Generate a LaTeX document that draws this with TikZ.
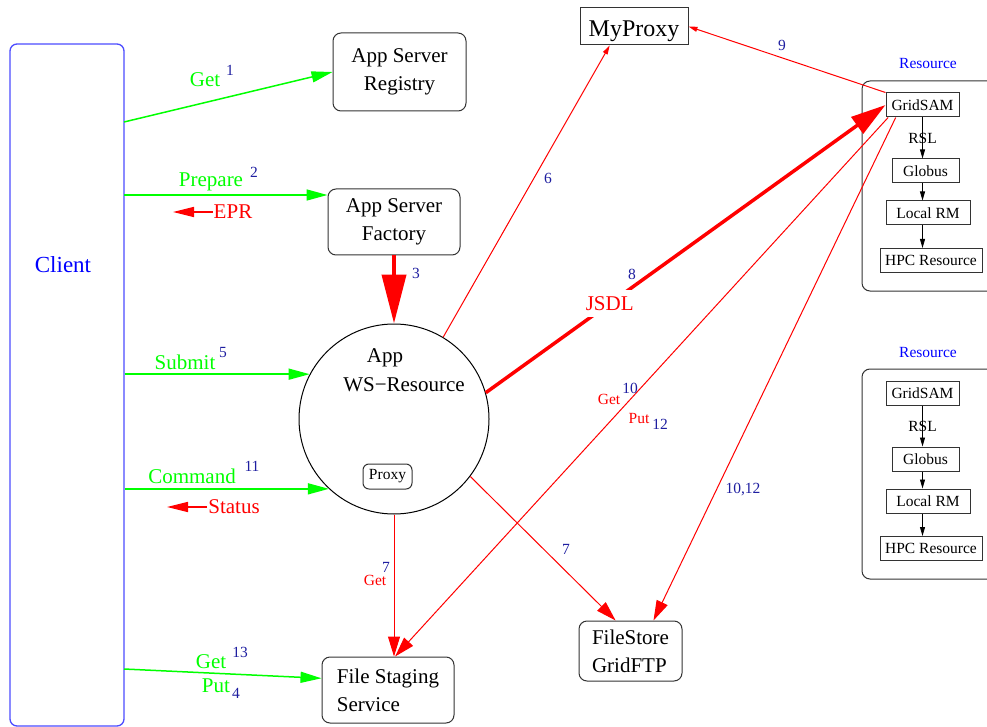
\documentclass[tikz,border=0pt]{standalone}
\usepackage{fontspec}
\setmainfont{Liberation Serif}
\usetikzlibrary{arrows.meta}
\definecolor{numblue}{RGB}{30,30,160}
\newcommand\bigtext{\fontsize{21}{28}\selectfont}
\newcommand\smalltext{\fontsize{15.5}{18}\selectfont}
\tikzset{
  box/.style={draw=black!80, line width=1pt, rounded corners=8pt, font=\bigtext, inner sep=0pt},
  resbox/.style={draw=black!80, line width=1pt, font=\smalltext, inner sep=0pt, minimum height=24pt},
  num/.style={text=numblue, font=\smalltext, inner sep=0pt},
  greenlabel/.style={text=green, font=\bigtext, inner sep=1pt},
  redlabel/.style={text=red, font=\bigtext, inner sep=1pt},
  call/.style={green, line width=1.5pt, -{Triangle[length=21pt,width=11pt]}},
  back/.style={red, line width=1.5pt, -{Triangle[length=21pt,width=10pt]}},
  flow/.style={red, line width=1pt, -{Triangle[length=20pt,width=12pt]}},
  thin/.style={red, line width=1pt, -{Triangle[length=9pt,width=5pt]}},
  jsdl/.style={red, line width=3.5pt, -{Triangle[length=35pt,width=20pt]}},
  push/.style={red, line width=4pt, -{Triangle[length=49pt,width=24pt]}},
  chain/.style={black, line width=0.8pt, -{Triangle[length=9pt,width=5pt]}}
}
\begin{document}
\begin{tikzpicture}[x=1pt,y=-1pt]
    \useasboundingbox (0,0) rectangle (987,727);

    % client
    \node[draw=blue!70, line width=1.3pt, rounded corners=7pt, minimum width=114pt, minimum height=682pt, inner sep=0pt] (client) at (67,385) {};
    \node[text=blue, font=\fontsize{23}{27}\selectfont] (clientname) at (63,265) {Client};

    % services
    \node[box, align=center, minimum width=133pt, minimum height=78pt] (registry) at (399.5,72) {App Server\\Registry};
    \node[box, align=center, minimum width=132pt, minimum height=66pt] (factory) at (394,222) {App Server\\Factory};
    \node[draw, circle, line width=1pt, minimum size=190pt, inner sep=0pt] (ws) at (394,419) {};
    \node[font=\bigtext, inner sep=0pt] (wsapp) at (385,358) {App};
    \node[font=\bigtext, inner sep=0pt] (wsres) at (404,385) {WS−Resource};
    \node[box, rounded corners=6pt, font=\smalltext, minimum width=49pt, minimum height=25pt] (proxy) at (387.5,476.5) {Proxy};
    \node[draw=black!80, line width=1pt, font=\fontsize{24}{28}\selectfont, text height=21pt, text depth=0pt, minimum width=108pt, minimum height=37pt, inner sep=0pt] (myproxy) at (634,26.5) {MyProxy};
    \node[box, align=left, minimum width=132pt, minimum height=66pt] (fss) at (388,690) {File Staging\\Service};
    \node[box, align=left, minimum width=103pt, minimum height=60pt] (filestore) at (630.5,651) {FileStore\\GridFTP};

    % resources
    \foreach \n/\dy in {1/0,2/288} {
        \node[text=blue, font=\smalltext, inner sep=0pt] (resname\n) at (928,64+\dy) {Resource};
        \node[box, minimum width=148pt, minimum height=210pt] (res\n) at (936,186+\dy) {};
        \node[resbox, minimum width=73pt] (gridsam\n) at (922.5,105+\dy) {GridSAM};
        \node[resbox, minimum width=67pt] (globus\n) at (925.5,171+\dy) {Globus};
        \node[resbox, minimum width=84pt] (localrm\n) at (928,213+\dy) {Local RM};
        \node[resbox, minimum width=102pt] (hpc\n) at (931,260.5+\dy) {HPC Resource};
        \draw[chain] (gridsam\n.south) -- node[font=\smalltext, inner sep=0pt] (rsl\n) {RSL} (gridsam\n.south |- globus\n.north);
        \draw[chain] (gridsam\n.south |- globus\n.south) -- (gridsam\n.south |- localrm\n.north);
        \draw[chain] (gridsam\n.south |- localrm\n.south) -- (gridsam\n.south |- hpc\n.north);
    }

    % client calls
    \coordinate (cget) at (124,122);
    \coordinate (cprep) at (124,195);
    \coordinate (cfile) at (124,669);
    \coordinate (eprtip) at (173,212);
    \coordinate (statustip) at (167,507);

    \draw[call] (cget) -- (registry.west);
    \node[greenlabel] (get1) at (205,80) {Get};
    \node[num] (n1) at (230,70) {1};

    \draw[call] (cprep) -- (cprep -| factory.west);
    \node[greenlabel] (prepare) at (211,182) {Prepare};
    \node[num] (n2) at (254,172) {2};
    \node[redlabel] (epr) at (233,212) {EPR};
    \draw[back] (epr.west) -- (eprtip);

    \draw[push] (factory.south) -- (ws.north);
    \node[num] (n3) at (416,273) {3};

    \draw[call] (client.east |- ws.152) -- (ws.152);
    \node[greenlabel] (submit) at (185,362) {Submit};
    \node[num] (n5) at (223,352) {5};

    \draw[call] (client.east |- ws.227) -- (ws.227);
    \node[greenlabel] (command) at (192,476) {Command};
    \node[num] (n11) at (252,466) {11};
    \node[redlabel] (status) at (234,507) {Status};
    \draw[back] (status.west) -- (statustip);

    \draw[call] (cfile) -- (fss.170);
    \node[greenlabel] (get13) at (211,662) {Get};
    \node[num] (n13) at (240,652) {13};
    \node[greenlabel] (put4) at (216,686) {Put};
    \node[num] (n4) at (236,693) {4};

    % job flow
    \draw[thin] (ws.59) -- (myproxy.218);
    \node[num] (n6) at (548,178) {6};

    \draw[thin] (gridsam1.north west) -- (myproxy.east);
    \node[num] (n9) at (782,45) {9};

    \draw[jsdl] (ws.16) -- node[pos=0.31, redlabel, fill=white, inner sep=6pt] (jsdlname) {JSDL} (gridsam1.west);
    \node[num, fill=white, inner sep=2pt] (n8) at (632,274) {8};

    \draw[flow] (ws.south) -- (ws.south |- fss.north);
    \node[text=red, font=\smalltext, inner sep=0pt] (get7) at (375,580) {Get};
    \node[num] (n7a) at (386,567) {7};

    \draw[flow] (ws.323) -- (filestore.116);
    \node[num] (n7b) at (566,549) {7};

    \draw[flow] (gridsam1.200) -- (fss.78);
    \node[text=red, font=\smalltext, inner sep=0pt] (get10) at (609,399) {Get};
    \node[num] (n10) at (630,388) {10};
    \node[text=red, font=\smalltext, inner sep=0pt] (put12) at (639,418) {Put};
    \node[num] (n12) at (660,424) {12};

    \draw[flow] (gridsam1.205) -- (filestore.53);
    \node[num] (n1012) at (743,490) {10,12};
\end{tikzpicture}
\end{document}
